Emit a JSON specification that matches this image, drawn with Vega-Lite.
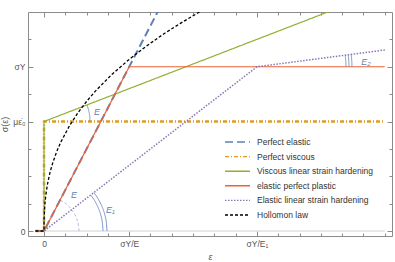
{
  "$schema": "https://vega.github.io/schema/vega-lite/v6.json",
  "width": 364,
  "height": 224,
  "autosize": {"type": "none"},
  "padding": {"left": 28, "top": 12, "right": 3, "bottom": 26},
  "background": "white",
  "config": {
    "font": "Liberation Sans, DejaVu Sans",
    "view": {"stroke": "#8c8c8c", "strokeWidth": 1},
    "axis": {
      "domain": false,
      "grid": false,
      "tickColor": "#8c8c8c",
      "labelFont": "Liberation Sans, DejaVu Sans",
      "labelFontSize": 8.5,
      "labelColor": "#555555",
      "titleFont": "Liberation Sans, DejaVu Sans",
      "titleFontSize": 9,
      "titleColor": "#555555",
      "titleFontWeight": "normal",
      "labelOverlap": false,
      "labelFlush": false
    },
    "legend": {
      "symbolStrokeWidth": 1.4,
      "rowPadding": 2.6,
      "clipHeight": 12
    }
  },
  "datasets": {
    "curves": [
      {"series": "Perfect elastic", "i": 0, "x": -0.1, "y": 0},
      {"series": "Perfect elastic", "i": 1, "x": 0, "y": 0},
      {"series": "Perfect elastic", "i": 2, "x": 1.45, "y": 1.45},
      {"series": "Perfect viscous", "i": 0, "x": -0.1, "y": 0},
      {"series": "Perfect viscous", "i": 1, "x": 0, "y": 0},
      {"series": "Perfect viscous", "i": 2, "x": 0, "y": 0.6667},
      {"series": "Perfect viscous", "i": 3, "x": 4, "y": 0.6667},
      {"series": "Viscous linear strain hardening", "i": 0, "x": -0.1, "y": 0},
      {"series": "Viscous linear strain hardening", "i": 1, "x": 0, "y": 0},
      {"series": "Viscous linear strain hardening", "i": 2, "x": 0, "y": 0.6667},
      {"series": "Viscous linear strain hardening", "i": 3, "x": 4, "y": 1.467},
      {"series": "elastic perfect plastic", "i": 0, "x": -0.1, "y": 0},
      {"series": "elastic perfect plastic", "i": 1, "x": 0, "y": 0},
      {"series": "elastic perfect plastic", "i": 2, "x": 1, "y": 1},
      {"series": "elastic perfect plastic", "i": 3, "x": 4, "y": 1},
      {"series": "Elastic linear strain hardening", "i": 0, "x": -0.1, "y": 0},
      {"series": "Elastic linear strain hardening", "i": 1, "x": 0, "y": 0},
      {"series": "Elastic linear strain hardening", "i": 2, "x": 2.5, "y": 1},
      {"series": "Elastic linear strain hardening", "i": 3, "x": 4, "y": 1.102},
      {"series": "Hollomon law", "i": 0, "x": -0.1, "y": 0},
      {"series": "Hollomon law", "i": 1, "x": 0, "y": 0},
      {"series": "Hollomon law", "i": 2, "x": 0.0005, "y": 0.048},
      {"series": "Hollomon law", "i": 3, "x": 0.002, "y": 0.084},
      {"series": "Hollomon law", "i": 4, "x": 0.005, "y": 0.122},
      {"series": "Hollomon law", "i": 5, "x": 0.01, "y": 0.162},
      {"series": "Hollomon law", "i": 6, "x": 0.02, "y": 0.214},
      {"series": "Hollomon law", "i": 7, "x": 0.04, "y": 0.284},
      {"series": "Hollomon law", "i": 8, "x": 0.07, "y": 0.356},
      {"series": "Hollomon law", "i": 9, "x": 0.1, "y": 0.411},
      {"series": "Hollomon law", "i": 10, "x": 0.15, "y": 0.485},
      {"series": "Hollomon law", "i": 11, "x": 0.2, "y": 0.544},
      {"series": "Hollomon law", "i": 12, "x": 0.3, "y": 0.642},
      {"series": "Hollomon law", "i": 13, "x": 0.4, "y": 0.721},
      {"series": "Hollomon law", "i": 14, "x": 0.5, "y": 0.789},
      {"series": "Hollomon law", "i": 15, "x": 0.6, "y": 0.85},
      {"series": "Hollomon law", "i": 16, "x": 0.8, "y": 0.955},
      {"series": "Hollomon law", "i": 17, "x": 1.0, "y": 1.045},
      {"series": "Hollomon law", "i": 18, "x": 1.2, "y": 1.125},
      {"series": "Hollomon law", "i": 19, "x": 1.4, "y": 1.198},
      {"series": "Hollomon law", "i": 20, "x": 1.6, "y": 1.264},
      {"series": "Hollomon law", "i": 21, "x": 1.8, "y": 1.326},
      {"series": "Hollomon law", "i": 22, "x": 2.0, "y": 1.384}
    ],
    "arcs": [
      {"arc": "E", "i": 0, "x": 0.54, "y": 0.6667},
      {"arc": "E", "i": 1, "x": 0.536, "y": 0.701},
      {"arc": "E", "i": 2, "x": 0.524, "y": 0.735},
      {"arc": "E", "i": 3, "x": 0.504, "y": 0.767},
      {"arc": "E0", "i": 0, "x": 0.411, "y": 0},
      {"arc": "E0", "i": 1, "x": 0.397, "y": 0.055},
      {"arc": "E0", "i": 2, "x": 0.356, "y": 0.1065},
      {"arc": "E0", "i": 3, "x": 0.291, "y": 0.151},
      {"arc": "E0", "i": 4, "x": 0.236, "y": 0.174},
      {"arc": "E0", "i": 5, "x": 0.189, "y": 0.189},
      {"arc": "E1a", "i": 0, "x": 0.6925, "y": 0},
      {"arc": "E1a", "i": 1, "x": 0.682, "y": 0.0623},
      {"arc": "E1a", "i": 2, "x": 0.651, "y": 0.1228},
      {"arc": "E1a", "i": 3, "x": 0.6, "y": 0.1795},
      {"arc": "E1a", "i": 4, "x": 0.5486, "y": 0.219},
      {"arc": "E1b", "i": 0, "x": 0.739, "y": 0},
      {"arc": "E1b", "i": 1, "x": 0.728, "y": 0.0666},
      {"arc": "E1b", "i": 2, "x": 0.695, "y": 0.131},
      {"arc": "E1b", "i": 3, "x": 0.64, "y": 0.1917},
      {"arc": "E1b", "i": 4, "x": 0.5856, "y": 0.2339},
      {"arc": "E2a", "i": 0, "x": 3.545, "y": 1},
      {"arc": "E2a", "i": 1, "x": 3.5425, "y": 1.0345},
      {"arc": "E2a", "i": 2, "x": 3.536, "y": 1.0688},
      {"arc": "E2b", "i": 0, "x": 3.58, "y": 1},
      {"arc": "E2b", "i": 1, "x": 3.578, "y": 1.0357},
      {"arc": "E2b", "i": 2, "x": 3.571, "y": 1.0712},
      {"arc": "E2c", "i": 0, "x": 3.615, "y": 1},
      {"arc": "E2c", "i": 1, "x": 3.6128, "y": 1.0368},
      {"arc": "E2c", "i": 2, "x": 3.606, "y": 1.0735}
    ],
    "labels": [
      {"label": "E", "x": 0.622, "y": 0.724},
      {"label": "E", "x": 0.352, "y": 0.219},
      {"label": "E₁", "x": 0.78, "y": 0.128},
      {"label": "E₂", "x": 3.78, "y": 1.03}
    ],
    "baseline": [
      {"x": -0.1, "x2": 4.0, "y": 0}
    ]
  },
  "layer": [
    {
      "data": {"name": "baseline"},
      "mark": {"type": "rule", "color": "#d0d0d0", "strokeWidth": 1},
      "encoding": {
        "x": {
          "field": "x", "type": "quantitative",
          "scale": {"domain": [-0.188, 4.085], "nice": false, "zero": false},
          "axis": {
            "orient": "bottom",
            "values": [0, 0.25, 0.5, 0.75, 1, 1.25, 1.5, 1.75, 2, 2.25, 2.5, 2.75, 3, 3.25, 3.5, 3.75, 4],
            "labelExpr": "datum.value == 0 ? '0' : datum.value == 1 ? 'σY/E' : datum.value == 2.5 ? 'σY/E₁' : ''",
            "tickSize": {"condition": {"test": "datum.value == 0 || datum.value == 1 || datum.value == 2.5", "value": -5}, "value": -3},
            "labelPadding": 8,
            "title": "ε",
            "titleFontStyle": "italic",
            "titlePadding": 3
          }
        },
        "x2": {"field": "x2"},
        "y": {
          "field": "y", "type": "quantitative",
          "scale": {"domain": [-0.0304, 1.3333], "nice": false, "zero": false},
          "axis": {
            "orient": "left",
            "values": [0, 0.16666666666666666, 0.3333333333333333, 0.5, 0.6666666666666666, 0.8333333333333334, 1, 1.1666666666666667],
            "labelExpr": "datum.value == 0 ? '0' : abs(datum.value - 0.6666666666666666) < 0.001 ? 'με̇₀' : datum.value == 1 ? 'σY' : ''",
            "tickSize": {"condition": {"test": "datum.value == 0 || datum.value == 1 || abs(datum.value - 0.6666666666666666) < 0.001", "value": -5}, "value": -3},
            "labelPadding": 8,
            "title": "σ(ε)",
            "titlePadding": 3
          }
        }
      }
    },
    {
      "data": {"name": "curves"},
      "mark": {"type": "line", "clip": true},
      "encoding": {
        "x": {
          "field": "x", "type": "quantitative",
          "axis": {
            "orient": "top",
            "values": [0, 0.25, 0.5, 0.75, 1, 1.25, 1.5, 1.75, 2, 2.25, 2.5, 2.75, 3, 3.25, 3.5, 3.75, 4],
            "labels": false,
            "tickSize": {"condition": {"test": "datum.value == 0 || datum.value == 1 || datum.value == 2.5", "value": -5}, "value": -3},
            "title": null
          }
        },
        "y": {
          "field": "y", "type": "quantitative",
          "axis": {
            "orient": "right",
            "values": [0, 0.16666666666666666, 0.3333333333333333, 0.5, 0.6666666666666666, 0.8333333333333334, 1, 1.1666666666666667],
            "labels": false,
            "tickSize": {"condition": {"test": "datum.value == 0 || datum.value == 1 || abs(datum.value - 0.6666666666666666) < 0.001", "value": -5}, "value": -3},
            "title": null
          }
        },
        "order": {"field": "i", "type": "quantitative"},
        "color": {
          "field": "series", "type": "nominal",
          "scale": {
            "domain": ["Perfect elastic", "Perfect viscous", "Viscous linear strain hardening", "elastic perfect plastic", "Elastic linear strain hardening", "Hollomon law"],
            "range": ["#5E81B5", "#E19C24", "#8FB032", "#EB6235", "#8778B3", "#000000"]
          },
          "legend": {
            "title": null,
            "orient": "none",
            "legendX": 196,
            "legendY": 124,
            "symbolType": "stroke",
            "symbolSize": 625,
            "labelFontSize": 8.5,
            "labelColor": "#333333",
            "labelOffset": 6,
            "rowPadding": 2.6,
            "clipHeight": 12
          }
        },
        "strokeDash": {
          "field": "series", "type": "nominal",
          "scale": {
            "domain": ["Perfect elastic", "Perfect viscous", "Viscous linear strain hardening", "elastic perfect plastic", "Elastic linear strain hardening", "Hollomon law"],
            "range": [[8, 4], [4, 2, 1, 2], [1, 0], [1, 0], [1.5, 1.5], [3, 2]]
          },
          "legend": {
            "title": null,
            "orient": "none",
            "legendX": 196,
            "legendY": 124,
            "symbolType": "stroke",
            "symbolSize": 625,
            "labelFontSize": 8.5,
            "labelColor": "#333333",
            "labelOffset": 6,
            "rowPadding": 2.6,
            "clipHeight": 12
          }
        },
        "strokeWidth": {
          "condition": [
            {"test": "datum.series == 'Perfect elastic'", "value": 2},
            {"test": "datum.series == 'Perfect viscous'", "value": 2.5},
            {"test": "datum.series == 'Elastic linear strain hardening'", "value": 1.5},
            {"test": "datum.series == 'Hollomon law'", "value": 1.3}
          ],
          "value": 1.2
        }
      }
    },
    {
      "data": {"name": "arcs"},
      "mark": {"type": "line", "color": "#5E81B5", "strokeWidth": 0.8, "interpolate": "cardinal"},
      "encoding": {
        "x": {"field": "x", "type": "quantitative", "axis": null},
        "y": {"field": "y", "type": "quantitative", "axis": null},
        "detail": {"field": "arc"},
        "order": {"field": "i", "type": "quantitative"},
        "strokeDash": {
          "condition": {"test": "datum.arc == 'E0'", "value": [3, 2]},
          "value": [1, 0]
        },
        "opacity": {
          "condition": {"test": "datum.arc == 'E0'", "value": 0.6},
          "value": 1
        }
      }
    },
    {
      "data": {"name": "labels"},
      "mark": {"type": "text", "color": "#5E81B5", "fontSize": 9, "fontStyle": "italic", "font": "Liberation Sans, DejaVu Sans"},
      "encoding": {
        "x": {"field": "x", "type": "quantitative", "axis": null},
        "y": {"field": "y", "type": "quantitative", "axis": null},
        "text": {"field": "label"}
      }
    }
  ],
  "resolve": {"axis": {"x": "independent", "y": "independent"}}
}
